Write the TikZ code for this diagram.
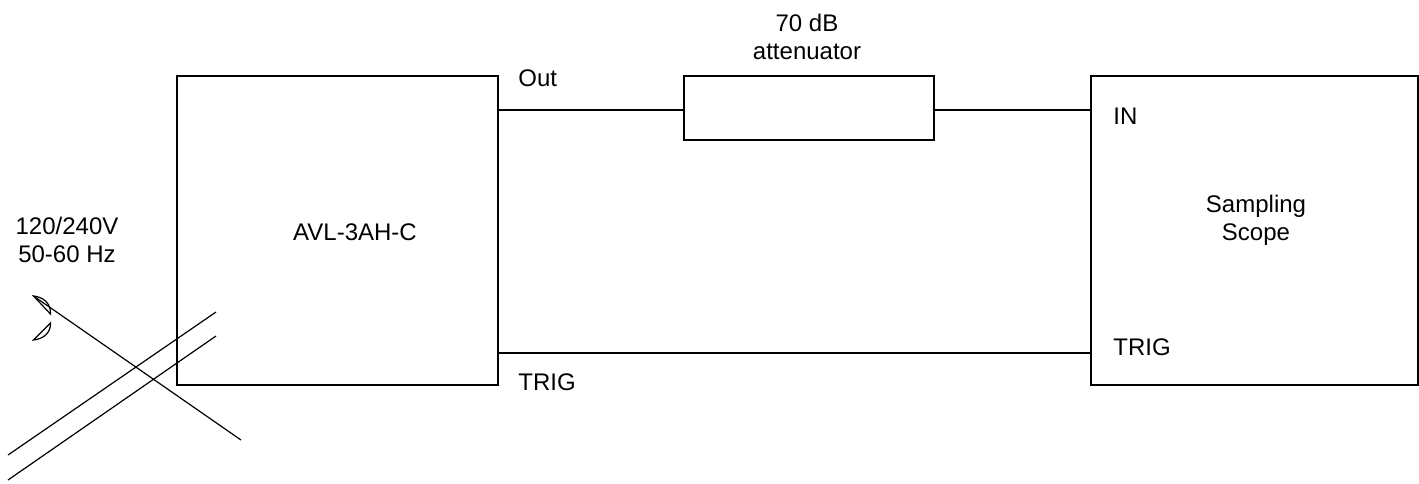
\documentclass[tikz,border=0pt]{standalone}
\usepackage{fontspec}
\setmainfont{Liberation Sans}
\usetikzlibrary{positioning,calc}
\begin{document}
\begin{tikzpicture}[
  x=0.5pt,y=-0.5pt,
  every node/.style={align=center,font=\fontsize{12}{14}\selectfont},
  box/.style={draw,line width=1pt,minimum width=#1,inner sep=0pt},
  wire/.style={line width=1pt},
  cord/.style={line width=0.6pt},
  lbl/.style={inner sep=0pt}]

  \useasboundingbox (0,0) rectangle (1419,483);

  % boxes
  \node[box=160.5pt,minimum height=154.5pt] (avl) at (337.5,230.5) {};
  \node[box=125pt,minimum height=32pt] (att) at (809,108) {};
  \node[box=163.25pt,minimum height=154.5pt] (scope) at (1254.25,230.5) {};

  % labels
  \node[lbl] (avlname) at (355,232) {AVL-3AH-C};
  \node[lbl] (attname) at (807,37) {70 dB\\attenuator};
  \node[lbl] (scopename) at (1256,220) {Sampling\\Scope};
  \node[lbl] (mains) at (67,240) {120/240V\\50-60 Hz};
  \node[lbl,anchor=west] (outlbl) at (518,78) {Out};
  \node[lbl,anchor=west] (triglbl) at (518,382) {TRIG};
  \node[lbl,anchor=west] (inlbl) at (1113,116) {IN};
  \node[lbl,anchor=west] (sctrig) at (1113,347) {TRIG};

  % connections
  \coordinate (outy) at (498,110);
  \coordinate (trigy) at (498,353);
  \draw[wire] (avl.east |- outy) -- (att.west |- outy);
  \draw[wire] (att.east |- outy) -- (scope.west |- outy);
  \draw[wire] (avl.east |- trigy) -- (scope.west |- trigy);

  % power cord
  \coordinate (plug) at (33.5,296);
  \coordinate (cordend) at (241,440);
  \coordinate (cord1a) at (8,455);
  \coordinate (cord1b) at (216,312);
  \coordinate (cord2a) at (8,480);
  \coordinate (cord2b) at (216,336);
  \draw[cord] (plug) -- (cordend);
  \draw[cord] (cord1a) -- (cord1b);
  \draw[cord] (cord2a) -- (cord2b);
  \draw[cord] (plug) .. controls (43,297) and (51,303) .. (50.5,314) -- cycle;
  \draw[cord] (33.5,340) .. controls (43,339) and (51,333) .. (50.5,323) -- cycle;
\end{tikzpicture}
\end{document}
